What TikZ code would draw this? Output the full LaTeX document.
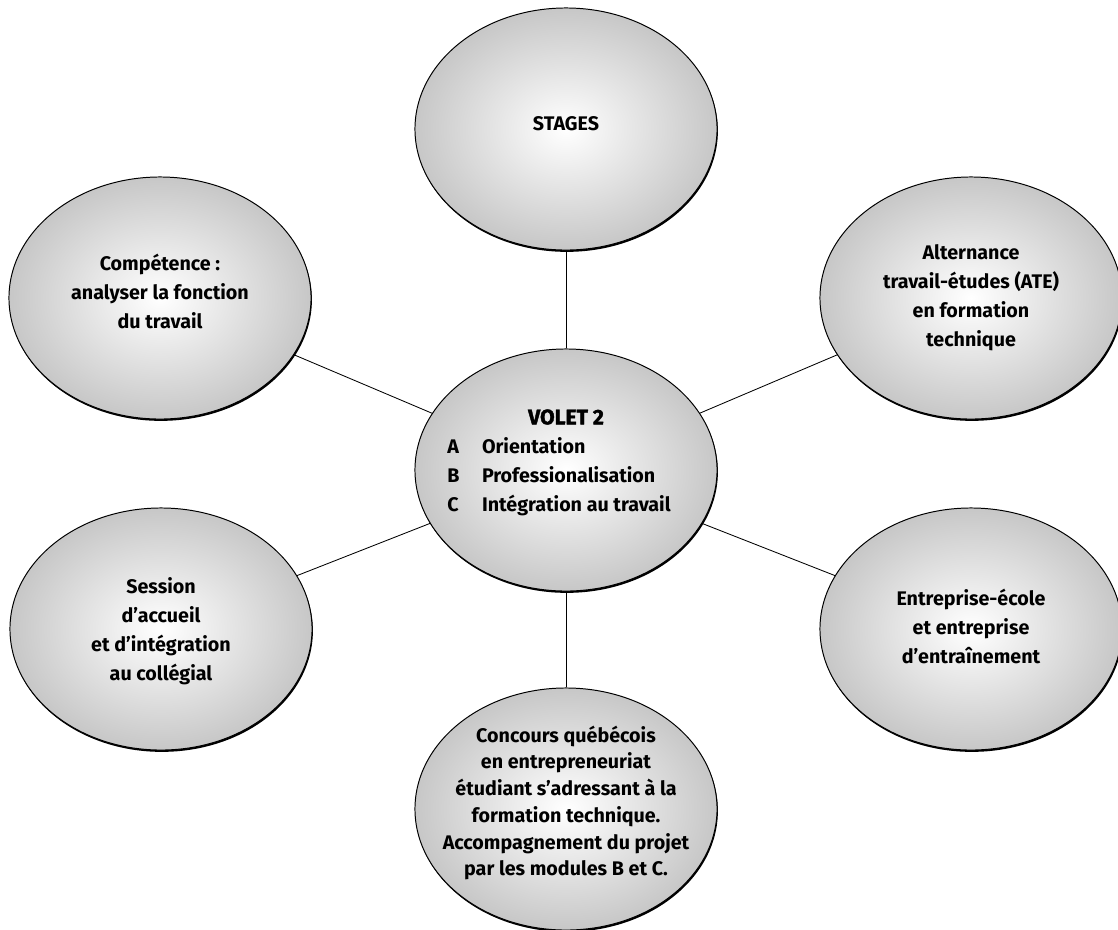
\documentclass[tikz,border=0pt]{standalone}
\usepackage{fontspec}
\setmainfont{Fira Sans}
\newfontfamily\heavy{Fira Sans}[BoldFeatures={FakeBold=1.8}]
\usepackage{tikz}
\usetikzlibrary{shapes.geometric,shadows}

\begin{document}
\begin{tikzpicture}[
  x=0.025cm, y=-0.025cm,
  bubble/.style={ellipse, draw, line width=0.7pt, minimum width=7.55cm, minimum height=6.05cm, inner sep=0pt,
    shading=radial, inner color=white, outer color=black!22,
    drop shadow={shadow xshift=0.6pt, shadow yshift=-1.3pt, fill=black, opacity=1}},
  txt/.style={align=center, inner sep=0pt, font=\bfseries\fontsize{14}{20.6}\selectfont},
  link/.style={line width=0.6pt}
]
\useasboundingbox (0,0) rectangle (1118,929);
\node[bubble] (vo) at (566,470) {};
\node[bubble] (st) at (566,129) {};
\node[bubble] (cq) at (566,809) {};
\node[bubble] (co) at (160,298) {};
\node[bubble] (se) at (161,629) {};
\node[bubble] (al) at (971,298) {};
\node[bubble] (en) at (971,629) {};
\draw[link] (vo) -- (st);
\draw[link] (vo) -- (cq);
\draw[link] (vo) -- (co);
\draw[link] (vo) -- (se);
\draw[link] (vo) -- (al);
\draw[link] (vo) -- (en);
\node[txt] (vo-t) at (559,462) {\begin{tabular}{@{}l@{\hspace{16pt}}l@{}}
  \multicolumn{2}{c}{\hspace{10pt}\heavy\fontsize{15}{20.6}\selectfont VOLET 2}\\
  A & Orientation\\
  B & Professionalisation\\
  C & Intégration au travail
\end{tabular}};
\node[txt] (st-t) at (566,124) {STAGES};
\node[txt] (co-t) at (160,291) {Compétence :\\analyser la fonction\\du travail};
\node[txt] (se-t) at (161,631) {Session\\d’accueil\\et d’intégration\\au collégial};
\node[txt] (al-t) at (971,298) {Alternance\\travail-études (ATE)\\en formation\\technique};
\node[txt, font=\bfseries\fontsize{14}{19}\selectfont] (cq-t) at (566,803) {Concours québécois\\en entrepreneuriat\\étudiant s’adressant à la\\formation technique.\\Accompagnement du projet\\par les modules B et C.};
\node[txt] (en-t) at (971,626) {Entreprise-école\\et entreprise\\d’entraînement};
\end{tikzpicture}
\end{document}
